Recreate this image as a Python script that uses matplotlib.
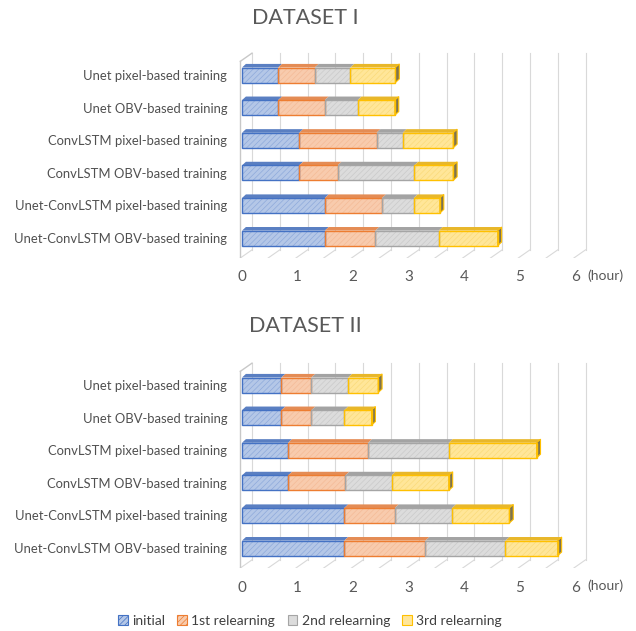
import numpy as np
import matplotlib.pyplot as plt
from matplotlib.patches import Polygon, Patch

plt.rcParams['font.family'] = ['Lato', 'DejaVu Sans']
plt.rcParams['hatch.linewidth'] = 0.5

models = ['Unet pixel-based training', 'Unet OBV-based training',
          'ConvLSTM pixel-based training', 'ConvLSTM OBV-based training',
          'Unet-ConvLSTM pixel-based training', 'Unet-ConvLSTM OBV-based training']
stages = ['initial', '1st relearning', '2nd relearning', '3rd relearning']

# training time in hours for each stage, dataset I
d1_initial = [0.65, 0.65, 1.03, 1.03, 1.49, 1.49]
d1_first = [0.66, 0.84, 1.39, 0.69, 1.03, 0.91]
d1_second = [0.64, 0.59, 0.47, 1.38, 0.57, 1.14]
d1_third = [0.81, 0.67, 0.91, 0.70, 0.47, 1.06]

# dataset II
d2_initial = [0.71, 0.71, 0.83, 0.83, 1.84, 1.84]
d2_first = [0.54, 0.54, 1.44, 1.03, 0.91, 1.46]
d2_second = [0.66, 0.59, 1.45, 0.83, 1.03, 1.44]
d2_third = [0.54, 0.49, 1.58, 1.03, 1.03, 0.94]

face = ['#b4c7e7', '#f8cbad', '#dcdcdc', '#ffe699']
hatchc = ['#8eaadb', '#f4bb97', '#cacaca', '#fadb7a']
edge = ['#4472c4', '#ed7d31', '#a5a5a5', '#ffc000']
topc = ['#5a7fc2', '#e48c55', '#a3a3a3', '#e8b72a']
grid_col = '#d9d9d9'
text_col = '#595959'

XMIN, XMAX = -0.216, 6.62
YTOP, YBOT = -0.92, 5.61


def draw_frame(ax):
    # pseudo-3d walls and floor
    dxw, dyw = 0.18, 0.25
    wall_top = -0.67
    back_bot = YBOT - dyw
    for k in np.arange(0, 6.01, 0.5):
        x = k + dxw
        ax.plot([x, x], [back_bot, wall_top], color=grid_col, lw=0.8, zorder=1)
        ax.plot([k - 0.03, x], [YBOT, back_bot], color=grid_col, lw=0.8, zorder=1)
    ax.plot([-0.03, -0.03], [YBOT, wall_top + dyw], color='#c8c8c8', lw=1.0, zorder=1)
    ax.plot([-0.03, dxw], [wall_top + dyw, wall_top], color='#c8c8c8', lw=1.0, zorder=1)


def draw_panel(ax, series):
    y = np.arange(len(models))
    h = 0.46
    dx, dy = 0.07, 0.11
    draw_frame(ax)
    left = np.zeros(len(models))
    for k, vals in enumerate(series):
        vals = np.asarray(vals)
        ax.barh(y, vals, left=left, height=h, color=face[k], edgecolor=hatchc[k],
                hatch='//////', linewidth=0, zorder=3)
        ax.barh(y, vals, left=left, height=h, fill=False, edgecolor=edge[k],
                linewidth=1.0, zorder=4)
        for yi, l, w in zip(y, left, vals):
            t = yi - h / 2
            ax.add_patch(Polygon([(l, t), (l + w, t), (l + w + dx, t - dy), (l + dx, t - dy)],
                                 closed=True, facecolor=topc[k], edgecolor='none', zorder=3))
        left = left + vals
    for yi, r in zip(y, left):
        ax.add_patch(Polygon([(r, yi - h / 2), (r + dx, yi - h / 2 - dy),
                              (r + dx, yi + h / 2 - dy), (r, yi + h / 2)],
                             closed=True, facecolor='#7d7350', edgecolor=edge[3],
                             lw=0.8, zorder=3))

    ax.set_xlim(XMIN, XMAX)
    ax.set_ylim(YBOT, YTOP)
    ax.set_xticks(range(7))
    ax.set_yticks(y, models)
    ax.tick_params(axis='x', length=0, pad=9, colors=text_col, labelsize=11)
    ax.tick_params(axis='y', length=0, pad=2, colors='#505050', labelsize=9.4)
    for s in ax.spines.values():
        s.set_visible(False)
    ax.text(6.53, -0.085, '(hour)', transform=ax.get_xaxis_transform(),
            ha='center', va='center', color=text_col, fontsize=10)


fig = plt.figure(figsize=(6.36, 6.31), dpi=100)
ax1 = fig.add_axes([230 / 636, 1 - 258 / 631, 380 / 636, 213 / 631])
ax2 = fig.add_axes([230 / 636, 1 - 568 / 631, 380 / 636, 213 / 631])

draw_panel(ax1, [d1_initial, d1_first, d1_second, d1_third])
draw_panel(ax2, [d2_initial, d2_first, d2_second, d2_third])

fig.text(305 / 636, 1 - 18 / 631, 'DATASET I', ha='center', va='center',
         fontsize=15.5, color=text_col)
fig.text(305 / 636, 1 - 326 / 631, 'DATASET II', ha='center', va='center',
         fontsize=15.5, color=text_col)

handles = [Patch(facecolor=face[k], edgecolor=edge[k], hatch='//////' if k < 2 else None,
                 linewidth=0.8) for k in range(4)]
fig.legend(handles, stages, loc='center', bbox_to_anchor=(310 / 636, 1 - 621 / 631),
           ncol=4, frameon=False, fontsize=10, handlelength=0.7, handleheight=0.7,
           handletextpad=0.3, columnspacing=0.9, labelcolor='#404040')

fig.savefig('out.png', dpi=100)
